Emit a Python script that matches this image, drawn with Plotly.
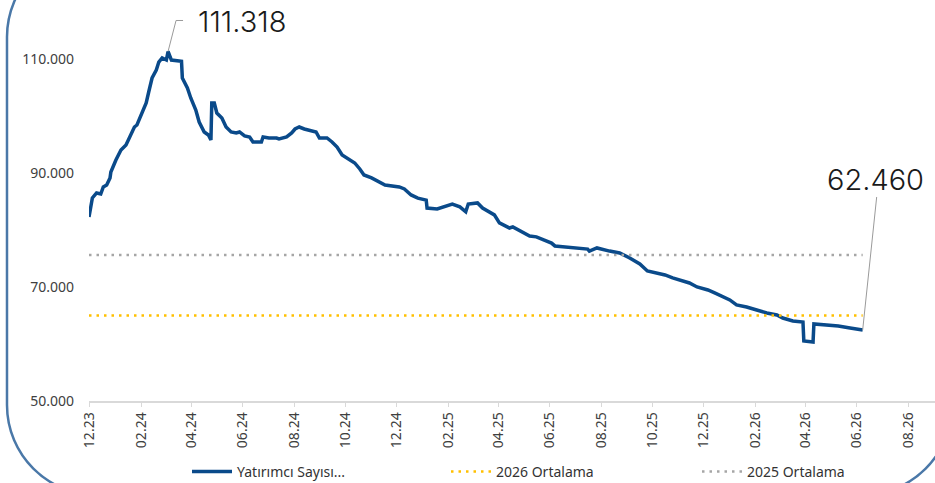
import plotly.graph_objects as go

# ---------------- data ----------------
dates = [
    "2023-12-01", "2023-12-02", "2023-12-03", "2023-12-05", "2023-12-10", "2023-12-15", "2023-12-18",
    "2023-12-22", "2023-12-26", "2023-12-27", "2024-01-02", "2024-01-08", "2024-01-14", "2024-01-18",
    "2024-01-24", "2024-01-27", "2024-02-02", "2024-02-07", "2024-02-10", "2024-02-14", "2024-02-19",
    "2024-02-22", "2024-02-26", "2024-03-02", "2024-03-04", "2024-03-08", "2024-03-20", "2024-03-21",
    "2024-03-27", "2024-03-31", "2024-04-06", "2024-04-10", "2024-04-16", "2024-04-21", "2024-04-24",
    "2024-04-25", "2024-04-28", "2024-05-01", "2024-05-07", "2024-05-12", "2024-05-18", "2024-05-24",
    "2024-05-28", "2024-06-03", "2024-06-09", "2024-06-13", "2024-06-18", "2024-06-23", "2024-06-25",
    "2024-07-02", "2024-07-11", "2024-07-14", "2024-07-23", "2024-07-29", "2024-08-02", "2024-08-07",
    "2024-08-13", "2024-08-21", "2024-08-27", "2024-08-31", "2024-09-09", "2024-09-15", "2024-09-21",
    "2024-09-27", "2024-10-03", "2024-10-12", "2024-10-18", "2024-10-23", "2024-11-01", "2024-11-08",
    "2024-11-14", "2024-11-17", "2024-12-04", "2024-12-10", "2024-12-18", "2024-12-26", "2025-01-05",
    "2025-01-06", "2025-01-18", "2025-01-27", "2025-02-05", "2025-02-14", "2025-02-21", "2025-02-24",
    "2025-03-07", "2025-03-13", "2025-03-27", "2025-04-02", "2025-04-14", "2025-04-18", "2025-04-26",
    "2025-05-08", "2025-05-16", "2025-06-03", "2025-06-07", "2025-06-21", "2025-07-06", "2025-07-16",
    "2025-07-18", "2025-07-27", "2025-08-11", "2025-08-23", "2025-09-04", "2025-09-16", "2025-09-25",
    "2025-10-06", "2025-10-16", "2025-10-25", "2025-11-05", "2025-11-14", "2025-11-23", "2025-12-06",
    "2025-12-14", "2025-12-24", "2026-01-01", "2026-01-09", "2026-01-21", "2026-02-02", "2026-02-14",
    "2026-02-26", "2026-03-05", "2026-03-17", "2026-03-29", "2026-03-30", "2026-04-10", "2026-04-11",
    "2026-04-27", "2026-05-10", "2026-05-24", "2026-06-08",
]
investors = [
    82300, 83160, 83510, 85620, 86500, 86320, 87550,
    87900, 89130, 90180, 92280, 94040, 94920, 96320,
    98070, 98420, 100530, 102280, 104210, 106670, 108070,
    109470, 110180, 109820, 111318, 109820, 109600, 106670,
    104910, 103160, 101050, 98950, 97200, 96670, 95790,
    102280, 102280, 100530, 99650, 98070, 97200, 97020,
    97200, 96500, 96320, 95440, 95440, 95440, 96320,
    96140, 96140, 95970, 96320, 97020, 97720, 98070,
    97720, 97370, 97200, 96140, 96140, 95440, 94560,
    93160, 92630, 91760, 90710, 89650, 89130, 88600,
    88080, 87900, 87550, 87200, 86150, 85600, 85250,
    83850, 83700, 84200, 84550, 84050, 83200, 84550,
    84750, 83850, 82650, 81250, 80350, 80550, 79850,
    78950, 78800, 77700, 77200, 77050, 76850, 76650,
    76300, 76850, 76300, 75970, 75090, 74040, 72810,
    72460, 72110, 71590, 71060, 70710, 70010, 69480,
    68960, 68250, 67730, 66850, 66500, 65970, 65450,
    65100, 64560, 64040, 63860, 60540, 60360, 63510,
    63340, 63160, 62810, 62460,
]
avg_2025 = 75600
avg_2026 = 65000
series_names = ["Yatırımcı Sayısı...", "2026 Ortalama", "2025 Ortalama"]
y_ticks = [50000, 70000, 90000, 110000]
y_tick_labels = ["50.000", "70.000", "90.000", "110.000"]
peak_label = "111.318"
last_label = "62.460"

# ---------------- layout constants ----------------
W, H = 935, 483
ML, MR, MT, MB = 89, 0, 2, 82
PW, PH = W - ML - MR, H - MT - MB


def px_x(p):
    return (p - ML) / PW


def px_y(p):
    return (H - MB - p) / PH


NAVY = "#0a4a8a"
GOLD = "#FFC000"
GREY = "#a6a6a6"
FONT = "Noto Sans"
ANN_FONT = "Inter"

fig = go.Figure()
fig.add_trace(go.Scatter(x=dates, y=investors, mode="lines", name=series_names[0],
                         line=dict(color=NAVY, width=3.5), legend="legend"))
fig.add_trace(go.Scatter(x=[dates[0], dates[-1]], y=[avg_2026, avg_2026], mode="lines",
                         name=series_names[1], line=dict(color=GOLD, width=2.5, dash="2.5px,5px"),
                         legend="legend2"))
fig.add_trace(go.Scatter(x=[dates[0], dates[-1]], y=[avg_2025, avg_2025], mode="lines",
                         name=series_names[2], line=dict(color=GREY, width=2.5, dash="2.5px,5px"),
                         legend="legend3"))

pk = investors.index(max(investors))

shapes = [
    dict(type="path", xref="x", yref="y", xsizemode="pixel", ysizemode="pixel",
         xanchor=dates[pk], yanchor=investors[pk], path="M0,0 L8,31 L15,31",
         line=dict(color="#9a9a9a", width=1)),
    dict(type="path", xref="x", yref="y", xsizemode="pixel", ysizemode="pixel",
         xanchor=dates[-1], yanchor=investors[-1], path="M0,0 L14,133",
         line=dict(color="#9a9a9a", width=1)),
]

L, T, R, B, r = 7, -53, 952, 495, 90
k = 0.5523 * r


def P(x, y):
    return f"{px_x(x):.5f},{px_y(y):.5f}"


path = (
    f"M{P(L + r, T)} L{P(R - r, T)} "
    f"C{P(R - r + k, T)} {P(R, T + r - k)} {P(R, T + r)} "
    f"L{P(R, B - r)} "
    f"C{P(R, B - r + k)} {P(R - r + k, B)} {P(R - r, B)} "
    f"L{P(L + r, B)} "
    f"C{P(L + r - k, B)} {P(L, B - r + k)} {P(L, B - r)} "
    f"L{P(L, T + r)} "
    f"C{P(L, T + r - k)} {P(L + r - k, T)} {P(L + r, T)} Z"
)
shapes.append(dict(type="path", xref="paper", yref="paper", path=path,
                   line=dict(color="#4a78a8", width=2.5), layer="above"))

annotations = [
    dict(xref="paper", yref="paper", x=px_x(196), y=px_y(21), xanchor="left", yanchor="middle",
         text=peak_label, showarrow=False, font=dict(family=ANN_FONT, size=29, color="#1a1a1a", weight=300)),
    dict(xref="paper", yref="paper", x=px_x(926), y=px_y(179), xanchor="right", yanchor="middle",
         text=last_label, showarrow=False, font=dict(family=ANN_FONT, size=29, color="#1a1a1a", weight=300)),
]


def legend_at(xpx):
    return dict(orientation="h", x=px_x(xpx), y=px_y(472), xanchor="left", yanchor="middle",
                itemwidth=40, font=dict(size=14, color="#333333"), bgcolor="rgba(0,0,0,0)")


fig.update_layout(
    width=W, height=H,
    margin=dict(l=ML, r=MR, t=MT, b=MB, pad=0, autoexpand=False),
    paper_bgcolor="white", plot_bgcolor="white",
    font=dict(family=FONT, color="#404040", size=13),
    separators=",.",
    showlegend=True,
    legend=legend_at(187),
    legend2=legend_at(446),
    legend3=legend_at(697),
    xaxis=dict(type="date", range=["2023-12-01", "2026-09-02"], automargin=False,
               tick0="2023-12-01", dtick="M2", tickformat="%m.%y", tickangle=-90,
               showgrid=False, zeroline=False,
               showline=True, linecolor="#d9d9d9", linewidth=1.5,
               ticks="outside", ticklen=4, tickcolor="#d9d9d9",
               tickfont=dict(size=14, color="#404040")),
    yaxis=dict(range=[50000, 120000], tickvals=y_ticks, ticktext=y_tick_labels, automargin=False,
               showgrid=False, zeroline=False, showline=False, ticks="",
               ticklabelstandoff=14, tickfont=dict(size=14, color="#404040")),
    shapes=shapes,
    annotations=annotations,
)

fig.write_html("out.html", config={"displayModeBar": False},
               post_script="document.body.style.margin='0';document.body.style.overflow='hidden';")
